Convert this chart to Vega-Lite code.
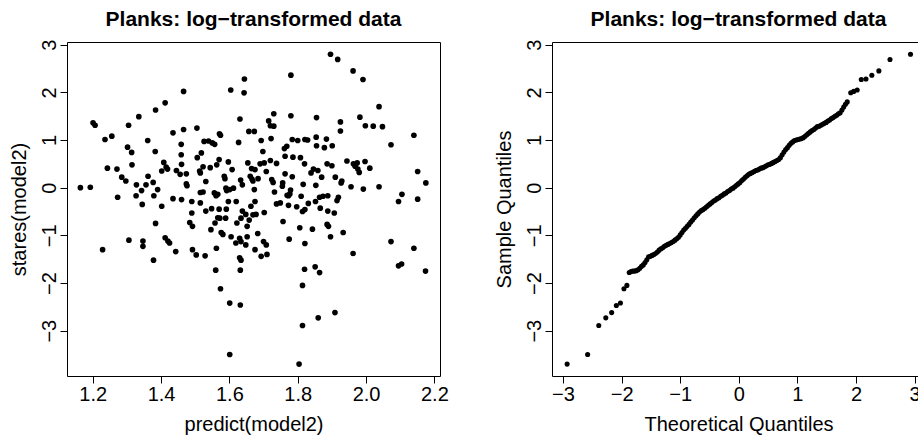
{
  "$schema": "https://vega.github.io/schema/vega-lite/v6.json",
  "background": "white",
  "padding": {"left": 8, "top": 8, "right": -2, "bottom": 0},
  "spacing": 112,
  "bounds": "flush",
  "config": {
    "font": "Liberation Sans",
    "view": {"stroke": "black", "strokeWidth": 1},
    "axis": {
      "grid": false, "domain": false, "tickColor": "black", "tickSize": 7, "tickWidth": 1,
      "labelColor": "black", "titleColor": "black", "labelFont": "Liberation Sans", "titleFont": "Liberation Sans",
      "labelFontSize": 20, "titleFontSize": 20, "titleFontWeight": "normal", "labelFlush": false, "labelOverlap": false
    },
    "axisX": {"labelBaseline": "alphabetic", "labelPadding": 17, "labelAlign": "center", "labelAngle": 0,
      "titleY": 54, "titleX": 186.5, "titleBaseline": "alphabetic", "titleAlign": "center", "titleAngle": 0},
    "axisY": {"labelAngle": 270, "labelAlign": "center", "labelBaseline": "alphabetic", "labelPadding": 5,
      "titleX": -42, "titleY": 167, "titleAngle": 270, "titleBaseline": "alphabetic", "titleAlign": "center"}
  },
  "datasets": {
    "scatter": [
      {"pred":1.164,"stres":0.00},{"pred":1.193,"stres":0.01},{"pred":1.201,"stres":1.36},{"pred":1.207,"stres":1.31},{"pred":1.236,"stres":1.01},{"pred":1.256,"stres":1.08},{"pred":1.243,"stres":0.41},{"pred":1.271,"stres":0.39},{"pred":1.273,"stres":-0.20},{"pred":1.285,"stres":0.22},{"pred":1.297,"stres":0.14},{"pred":1.305,"stres":1.31},{"pred":1.302,"stres":0.85},{"pred":1.314,"stres":0.74},{"pred":1.315,"stres":0.48},{"pred":1.328,"stres":0.06},{"pred":1.327,"stres":-0.17},{"pred":1.335,"stres":1.49},{"pred":1.343,"stres":-0.06},{"pred":1.356,"stres":0.06},{"pred":1.361,"stres":0.99},{"pred":1.362,"stres":0.24},{"pred":1.377,"stres":0.11},{"pred":1.379,"stres":-0.17},{"pred":1.384,"stres":1.63},{"pred":1.383,"stres":0.76},{"pred":1.390,"stres":-0.04},{"pred":1.402,"stres":0.35},{"pred":1.408,"stres":0.53},{"pred":1.412,"stres":1.78},{"pred":1.415,"stres":0.43},{"pred":1.419,"stres":0.39},{"pred":1.435,"stres":1.15},{"pred":1.445,"stres":0.36},{"pred":1.456,"stres":0.28},{"pred":1.460,"stres":0.49},{"pred":1.459,"stres":0.91},{"pred":1.459,"stres":0.69},{"pred":1.466,"stres":2.02},{"pred":1.466,"stres":1.22},{"pred":1.474,"stres":0.08},{"pred":1.476,"stres":0.04},{"pred":1.474,"stres":0.29},{"pred":1.505,"stres":1.25},{"pred":1.506,"stres":0.63},{"pred":1.513,"stres":0.35},{"pred":1.515,"stres":0.31},{"pred":1.515,"stres":-0.10},{"pred":1.518,"stres":0.73},{"pred":1.523,"stres":-0.09},{"pred":1.526,"stres":0.97},{"pred":1.523,"stres":0.44},{"pred":1.531,"stres":0.13},{"pred":1.539,"stres":0.98},{"pred":1.544,"stres":0.42},{"pred":1.550,"stres":0.94},{"pred":1.557,"stres":0.91},{"pred":1.556,"stres":-0.11},{"pred":1.561,"stres":-0.17},{"pred":1.563,"stres":0.48},{"pred":1.566,"stres":-0.14},{"pred":1.570,"stres":0.59},{"pred":1.571,"stres":1.13},{"pred":1.574,"stres":1.10},{"pred":1.585,"stres":0.24},{"pred":1.587,"stres":0.19},{"pred":1.590,"stres":-0.01},{"pred":1.592,"stres":-0.06},{"pred":1.597,"stres":0.54},{"pred":1.601,"stres":-0.04},{"pred":1.604,"stres":2.05},{"pred":1.608,"stres":0.38},{"pred":1.612,"stres":-0.01},{"pred":1.627,"stres":0.95},{"pred":1.631,"stres":1.44},{"pred":1.633,"stres":0.16},{"pred":1.638,"stres":0.06},{"pred":1.643,"stres":1.99},{"pred":1.644,"stres":2.28},{"pred":1.654,"stres":0.52},{"pred":1.657,"stres":1.18},{"pred":1.661,"stres":0.24},{"pred":1.665,"stres":0.40},{"pred":1.666,"stres":0.18},{"pred":1.669,"stres":0.14},{"pred":1.673,"stres":1.18},{"pred":1.673,"stres":-0.04},{"pred":1.675,"stres":0.38},{"pred":1.684,"stres":0.19},{"pred":1.693,"stres":0.99},{"pred":1.698,"stres":0.76},{"pred":1.690,"stres":0.50},{"pred":1.702,"stres":0.52},{"pred":1.708,"stres":0.34},{"pred":1.715,"stres":1.40},{"pred":1.720,"stres":1.30},{"pred":1.722,"stres":1.03},{"pred":1.720,"stres":0.57},{"pred":1.724,"stres":0.17},{"pred":1.728,"stres":0.11},{"pred":1.730,"stres":1.55},{"pred":1.730,"stres":1.29},{"pred":1.732,"stres":-0.09},{"pred":1.738,"stres":0.51},{"pred":1.755,"stres":0.03},{"pred":1.756,"stres":0.10},{"pred":1.761,"stres":0.82},{"pred":1.763,"stres":0.29},{"pred":1.763,"stres":0.66},{"pred":1.768,"stres":0.87},{"pred":1.769,"stres":-0.16},{"pred":1.773,"stres":-0.17},{"pred":1.777,"stres":-0.13},{"pred":1.779,"stres":-0.05},{"pred":1.780,"stres":2.36},{"pred":1.780,"stres":1.51},{"pred":1.784,"stres":0.23},{"pred":1.784,"stres":1.01},{"pred":1.786,"stres":0.64},{"pred":1.800,"stres":0.99},{"pred":1.808,"stres":0.63},{"pred":1.810,"stres":-0.18},{"pred":1.816,"stres":0.07},{"pred":1.820,"stres":0.50},{"pred":1.821,"stres":1.01},{"pred":1.829,"stres":1.00},{"pred":1.839,"stres":0.31},{"pred":1.846,"stres":0.39},{"pred":1.853,"stres":0.05},{"pred":1.854,"stres":1.06},{"pred":1.855,"stres":1.47},{"pred":1.855,"stres":0.88},{"pred":1.859,"stres":0.36},{"pred":1.864,"stres":-0.20},{"pred":1.870,"stres":0.22},{"pred":1.874,"stres":-0.18},{"pred":1.878,"stres":0.84},{"pred":1.884,"stres":1.02},{"pred":1.886,"stres":0.50},{"pred":1.888,"stres":-0.17},{"pred":1.896,"stres":2.80},{"pred":1.900,"stres":0.46},{"pred":1.901,"stres":0.88},{"pred":1.910,"stres":0.22},{"pred":1.917,"stres":2.69},{"pred":1.919,"stres":-0.20},{"pred":1.925,"stres":1.19},{"pred":1.925,"stres":1.38},{"pred":1.927,"stres":0.10},{"pred":1.929,"stres":0.14},{"pred":1.944,"stres":0.56},{"pred":1.956,"stres":0.02},{"pred":1.962,"stres":2.45},{"pred":1.963,"stres":0.50},{"pred":1.968,"stres":0.45},{"pred":1.974,"stres":0.52},{"pred":1.976,"stres":0.39},{"pred":1.980,"stres":0.32},{"pred":1.982,"stres":1.48},{"pred":1.991,"stres":2.27},{"pred":1.992,"stres":-0.03},{"pred":1.997,"stres":0.55},{"pred":1.998,"stres":1.30},{"pred":2.011,"stres":0.41},{"pred":2.021,"stres":1.29},{"pred":2.038,"stres":1.70},{"pred":2.038,"stres":0.02},{"pred":2.048,"stres":1.28},{"pred":2.073,"stres":0.90},{"pred":2.105,"stres":-0.14},{"pred":2.140,"stres":1.10},{"pred":2.151,"stres":0.34},{"pred":2.175,"stres":0.10},
      {"pred":1.435,"stres":-0.23},{"pred":1.345,"stres":-0.35},{"pred":1.402,"stres":-0.39},{"pred":1.460,"stres":-0.25},{"pred":1.490,"stres":-0.29},{"pred":1.515,"stres":-0.32},{"pred":1.490,"stres":-0.53},{"pred":1.531,"stres":-0.49},{"pred":1.548,"stres":-0.44},{"pred":1.570,"stres":-0.45},{"pred":1.591,"stres":-0.45},{"pred":1.597,"stres":-0.29},{"pred":1.620,"stres":-0.29},{"pred":1.638,"stres":-0.49},{"pred":1.648,"stres":-0.56},{"pred":1.663,"stres":-0.39},{"pred":1.675,"stres":-0.29},{"pred":1.702,"stres":-0.52},{"pred":1.738,"stres":-0.34},{"pred":1.749,"stres":-0.32},{"pred":1.773,"stres":-0.37},{"pred":1.797,"stres":-0.40},{"pred":1.814,"stres":-0.50},{"pred":1.821,"stres":-0.46},{"pred":1.831,"stres":-0.33},{"pred":1.852,"stres":-0.29},{"pred":1.866,"stres":-0.43},{"pred":1.888,"stres":-0.49},{"pred":1.907,"stres":-0.53},{"pred":1.915,"stres":-0.27},{"pred":2.095,"stres":-0.29},{"pred":2.151,"stres":-0.24},{"pred":1.484,"stres":-0.73},{"pred":1.492,"stres":-0.81},{"pred":1.546,"stres":-0.88},{"pred":1.558,"stres":-0.74},{"pred":1.566,"stres":-0.63},{"pred":1.572,"stres":-0.64},{"pred":1.589,"stres":-0.64},{"pred":1.576,"stres":-0.94},{"pred":1.581,"stres":-0.98},{"pred":1.622,"stres":-0.74},{"pred":1.634,"stres":-0.64},{"pred":1.652,"stres":-0.81},{"pred":1.658,"stres":-0.68},{"pred":1.669,"stres":-0.57},{"pred":1.678,"stres":-0.56},{"pred":1.683,"stres":-0.96},{"pred":1.757,"stres":-0.71},{"pred":1.806,"stres":-0.84},{"pred":1.843,"stres":-0.87},{"pred":1.886,"stres":-0.77},{"pred":1.890,"stres":-0.81},{"pred":1.933,"stres":-0.94},{"pred":1.384,"stres":-0.75},{"pred":1.306,"stres":-1.10},{"pred":1.347,"stres":-1.12},{"pred":1.412,"stres":-1.05},{"pred":1.420,"stres":-1.12},{"pred":1.425,"stres":-1.16},{"pred":1.443,"stres":-1.34},{"pred":1.492,"stres":-1.30},{"pred":1.503,"stres":-1.41},{"pred":1.529,"stres":-1.43},{"pred":1.347,"stres":-1.23},{"pred":1.378,"stres":-1.52},{"pred":1.229,"stres":-1.30},{"pred":1.562,"stres":-1.27},{"pred":1.605,"stres":-1.03},{"pred":1.619,"stres":-1.16},{"pred":1.630,"stres":-1.06},{"pred":1.634,"stres":-1.13},{"pred":1.630,"stres":-1.47},{"pred":1.634,"stres":-1.52},{"pred":1.652,"stres":-1.03},{"pred":1.648,"stres":-1.20},{"pred":1.675,"stres":-1.30},{"pred":1.693,"stres":-1.44},{"pred":1.700,"stres":-1.13},{"pred":1.708,"stres":-1.20},{"pred":1.710,"stres":-1.40},{"pred":1.775,"stres":-1.08},{"pred":1.821,"stres":-1.17},{"pred":1.896,"stres":-1.03},{"pred":1.962,"stres":-1.38},{"pred":2.073,"stres":-1.13},{"pred":2.140,"stres":-1.27},{"pred":1.560,"stres":-1.73},{"pred":1.632,"stres":-1.73},{"pred":1.574,"stres":-2.12},{"pred":1.601,"stres":-2.42},{"pred":1.632,"stres":-2.46},{"pred":1.820,"stres":-1.71},{"pred":1.851,"stres":-1.66},{"pred":1.864,"stres":-1.78},{"pred":1.814,"stres":-2.05},{"pred":2.095,"stres":-1.64},{"pred":2.104,"stres":-1.60},{"pred":2.174,"stres":-1.75},{"pred":1.601,"stres":-3.50},{"pred":1.814,"stres":-2.89},{"pred":1.860,"stres":-2.73},{"pred":1.909,"stres":-2.62},{"pred":1.804,"stres":-3.70}
    ],
    "qq": [
      {"theo":-2.93,"samp":-3.70},{"theo":-2.58,"samp":-3.50},{"theo":-2.39,"samp":-2.89},{"theo":-2.27,"samp":-2.73},{"theo":-2.17,"samp":-2.62},{"theo":-2.09,"samp":-2.47},{"theo":-2.02,"samp":-2.42},{"theo":-1.96,"samp":-2.12},{"theo":-1.91,"samp":-2.05},
      {"theo":-1.87,"samp":-1.78},{"theo":-1.84,"samp":-1.76},{"theo":-1.81,"samp":-1.75},{"theo":-1.78,"samp":-1.75},{"theo":-1.75,"samp":-1.74},{"theo":-1.72,"samp":-1.72},{"theo":-1.69,"samp":-1.69},{"theo":-1.66,"samp":-1.65},{"theo":-1.63,"samp":-1.62},{"theo":-1.60,"samp":-1.57},{"theo":-1.57,"samp":-1.51},{"theo":-1.54,"samp":-1.45},{"theo":-1.51,"samp":-1.44},{"theo":-1.48,"samp":-1.42},{"theo":-1.45,"samp":-1.40},{"theo":-1.42,"samp":-1.38},{"theo":-1.39,"samp":-1.35},{"theo":-1.36,"samp":-1.31},{"theo":-1.33,"samp":-1.28},{"theo":-1.30,"samp":-1.26},{"theo":-1.27,"samp":-1.23},{"theo":-1.24,"samp":-1.21},{"theo":-1.21,"samp":-1.19},{"theo":-1.18,"samp":-1.17},{"theo":-1.15,"samp":-1.15},{"theo":-1.12,"samp":-1.13},{"theo":-1.09,"samp":-1.10},{"theo":-1.06,"samp":-1.07},{"theo":-1.03,"samp":-1.04},{"theo":-1.00,"samp":-0.99},{"theo":-0.97,"samp":-0.94},{"theo":-0.94,"samp":-0.89},{"theo":-0.91,"samp":-0.85},{"theo":-0.88,"samp":-0.81},{"theo":-0.85,"samp":-0.77},{"theo":-0.82,"samp":-0.72},{"theo":-0.79,"samp":-0.68},{"theo":-0.76,"samp":-0.63},{"theo":-0.73,"samp":-0.59},{"theo":-0.70,"samp":-0.55},{"theo":-0.67,"samp":-0.51},{"theo":-0.64,"samp":-0.48},{"theo":-0.61,"samp":-0.46},{"theo":-0.58,"samp":-0.43},{"theo":-0.55,"samp":-0.40},{"theo":-0.52,"samp":-0.37},{"theo":-0.49,"samp":-0.34},{"theo":-0.46,"samp":-0.31},{"theo":-0.43,"samp":-0.28},{"theo":-0.40,"samp":-0.26},{"theo":-0.37,"samp":-0.23},{"theo":-0.34,"samp":-0.21},{"theo":-0.31,"samp":-0.18},{"theo":-0.28,"samp":-0.16},{"theo":-0.25,"samp":-0.13},{"theo":-0.22,"samp":-0.11},{"theo":-0.19,"samp":-0.08},{"theo":-0.16,"samp":-0.06},{"theo":-0.13,"samp":-0.03},{"theo":-0.10,"samp":-0.01},{"theo":-0.07,"samp":0.02},{"theo":-0.04,"samp":0.05},{"theo":-0.01,"samp":0.08},{"theo":0.02,"samp":0.11},{"theo":0.05,"samp":0.15},{"theo":0.08,"samp":0.18},{"theo":0.11,"samp":0.22},{"theo":0.14,"samp":0.25},{"theo":0.17,"samp":0.28},{"theo":0.20,"samp":0.30},{"theo":0.23,"samp":0.32},{"theo":0.26,"samp":0.34},{"theo":0.29,"samp":0.36},{"theo":0.32,"samp":0.37},{"theo":0.35,"samp":0.39},{"theo":0.38,"samp":0.41},{"theo":0.41,"samp":0.42},{"theo":0.44,"samp":0.44},{"theo":0.47,"samp":0.46},{"theo":0.50,"samp":0.48},{"theo":0.53,"samp":0.49},{"theo":0.56,"samp":0.51},{"theo":0.59,"samp":0.53},{"theo":0.62,"samp":0.55},{"theo":0.65,"samp":0.57},{"theo":0.68,"samp":0.59},{"theo":0.71,"samp":0.63},{"theo":0.74,"samp":0.69},{"theo":0.77,"samp":0.75},{"theo":0.80,"samp":0.80},{"theo":0.83,"samp":0.84},{"theo":0.86,"samp":0.89},{"theo":0.89,"samp":0.93},{"theo":0.92,"samp":0.96},{"theo":0.95,"samp":0.99},{"theo":0.98,"samp":1.00},{"theo":1.01,"samp":1.01},{"theo":1.04,"samp":1.02},{"theo":1.07,"samp":1.03},{"theo":1.10,"samp":1.05},{"theo":1.13,"samp":1.08},{"theo":1.16,"samp":1.11},{"theo":1.19,"samp":1.14},{"theo":1.22,"samp":1.17},{"theo":1.25,"samp":1.20},{"theo":1.28,"samp":1.22},{"theo":1.31,"samp":1.25},{"theo":1.34,"samp":1.28},{"theo":1.37,"samp":1.29},{"theo":1.40,"samp":1.31},{"theo":1.43,"samp":1.33},{"theo":1.46,"samp":1.35},{"theo":1.49,"samp":1.37},{"theo":1.52,"samp":1.40},{"theo":1.55,"samp":1.42},{"theo":1.58,"samp":1.45},{"theo":1.61,"samp":1.47},{"theo":1.64,"samp":1.50},{"theo":1.67,"samp":1.52},{"theo":1.70,"samp":1.55},{"theo":1.73,"samp":1.57},{"theo":1.76,"samp":1.63},{"theo":1.79,"samp":1.69},{"theo":1.82,"samp":1.75},{"theo":1.85,"samp":1.80},
      {"theo":1.91,"samp":1.99},{"theo":1.96,"samp":2.02},{"theo":2.02,"samp":2.05},{"theo":2.09,"samp":2.27},{"theo":2.17,"samp":2.28},{"theo":2.27,"samp":2.36},{"theo":2.39,"samp":2.45},{"theo":2.58,"samp":2.69},{"theo":2.93,"samp":2.80}
    ]
  },
  "hconcat": [
    {
      "width": 373, "height": 334,
      "title": {"text": "Planks: log−transformed data", "fontSize": 21, "fontWeight": "bold", "font": "Liberation Sans", "color": "black", "anchor": "middle", "baseline": "alphabetic", "offset": -8},
      "data": {"name": "scatter"},
      "mark": {"type": "circle", "size": 32, "color": "black", "opacity": 1},
      "encoding": {
        "x": {"field": "pred", "type": "quantitative", "scale": {"domain": [1.1248, 2.2164], "nice": false, "zero": false},
          "axis": {"values": [1.2, 1.4, 1.6, 1.8, 2.0, 2.2], "format": ".1f", "title": "predict(model2)"}},
        "y": {"field": "stres", "type": "quantitative", "scale": {"domain": [-3.95, 3.056], "nice": false, "zero": false},
          "axis": {"values": [-3, -2, -1, 0, 1, 2, 3], "format": "d", "title": "stares(model2)"}}
      }
    },
    {
      "width": 368, "height": 334,
      "title": {"text": "Planks: log−transformed data", "fontSize": 21, "fontWeight": "bold", "font": "Liberation Sans", "color": "black", "anchor": "middle", "baseline": "alphabetic", "offset": -8, "dx": 2.5},
      "data": {"name": "qq"},
      "mark": {"type": "circle", "size": 26, "color": "black", "opacity": 1},
      "encoding": {
        "x": {"field": "theo", "type": "quantitative", "scale": {"domain": [-3.188, 3.092], "nice": false, "zero": false},
          "axis": {"values": [-3, -2, -1, 0, 1, 2, 3], "format": "d", "title": "Theoretical Quantiles"}},
        "y": {"field": "samp", "type": "quantitative", "scale": {"domain": [-3.95, 3.056], "nice": false, "zero": false},
          "axis": {"values": [-3, -2, -1, 0, 1, 2, 3], "format": "d", "title": "Sample Quantiles"}}
      }
    }
  ]
}
